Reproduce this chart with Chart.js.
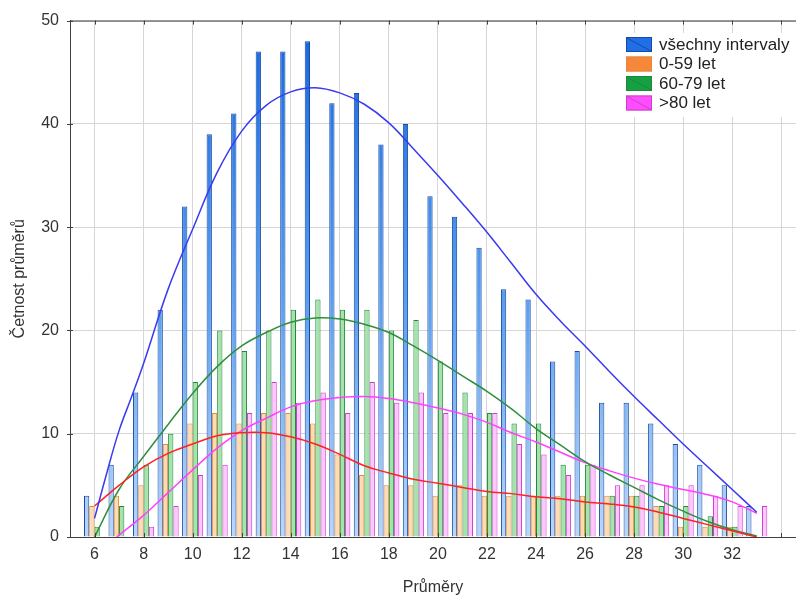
<!DOCTYPE html>
<html>
<head>
<meta charset="utf-8">
<script src="https://cdn.jsdelivr.net/npm/chart.js@4.4.1/dist/chart.umd.min.js"></script>
<style>
    html, body { margin: 0; padding: 0; background: #fff; }
    #wrap { width: 796px; height: 599px; }
</style>
</head>
<body>
<div id="wrap"><canvas id="prumery-chart" width="796" height="599"></canvas></div>
<script>
// průměry (kategorie na ose x)
const prumery = [6, 7, 8, 9, 10, 11, 12, 13, 14, 15, 16, 17, 18, 19, 20, 21, 22, 23, 24, 25, 26, 27, 28, 29, 30, 31, 32, 33];
const tickLabels = [6, 8, 10, 12, 14, 16, 18, 20, 22, 24, 26, 28, 30, 32];

// četnosti
const vsechny = [4, 7, 14, 22, 32, 39, 41, 47, 47, 48, 42, 43, 38, 40, 33, 31, 28, 24, 23, 17, 18, 13, 13, 11, 9, 7, 5, 3];
const do59 = [3, 4, 5, 9, 11, 12, 11, 12, 12, 11, 8, 6, 5, 5, 4, 5, 4, 4, 4, 4, 4, 4, 4, 3, 1, 1, 1, 0];
const od60do79 = [1, 3, 7, 10, 15, 20, 18, 20, 22, 23, 22, 22, 20, 21, 17, 14, 12, 11, 11, 7, 7, 4, 4, 3, 3, 2, 1, 0];
const nad80 = [0, 0, 1, 3, 6, 7, 12, 15, 13, 14, 12, 15, 13, 14, 12, 12, 12, 9, 8, 6, 7, 5, 5, 5, 5, 4, 3, 3];

// proložené křivky
const vsechnyKrivkaX = [6, 6.5, 7, 7.5, 8, 9, 10, 11, 12, 13, 14, 15, 16, 17, 18, 19, 20, 21, 22, 23, 24, 25, 26, 27, 28, 29, 30, 31, 32, 33];
const vsechnyKrivka = [1.8, 6.2, 10.3, 13.5, 16.8, 24.0, 29.8, 35.3, 39.3, 41.8, 43.1, 43.5, 43.0, 41.9, 40.1, 37.6, 35.0, 32.3, 29.5, 26.5, 23.5, 20.9, 18.5, 16.0, 13.6, 11.3, 9.0, 6.8, 4.6, 2.4];
const krivkaX = [6, 7, 8, 9, 10, 11, 12, 13, 14, 15, 16, 17, 18, 19, 20, 21, 22, 23, 24, 25, 26, 27, 28, 29, 30, 31, 32, 33];
const do59Krivka = [3.0, 5.0, 6.8, 8.1, 9.0, 9.8, 10.1, 10.1, 9.7, 9.0, 8.0, 6.9, 6.2, 5.6, 5.2, 4.8, 4.4, 4.2, 3.9, 3.7, 3.4, 3.2, 2.9, 2.4, 1.8, 1.2, 0.6, 0.0];
const od60do79Krivka = [0, 4.6, 7.8, 10.9, 13.9, 16.5, 18.5, 19.8, 20.8, 21.2, 21.1, 20.6, 19.8, 18.5, 17.1, 15.6, 14.1, 12.4, 10.5, 8.9, 7.3, 6.0, 4.8, 3.6, 2.5, 1.5, 0.7, 0.1];
const nad80KrivkaX = [6.9, 8, 9, 10, 11, 12, 13, 14, 15, 16, 17, 18, 19, 20, 21, 22, 23, 24, 25, 26, 27, 28, 29, 30, 31, 32, 33];
const nad80Krivka = [0, 2.1, 4.3, 6.5, 8.6, 10.3, 11.5, 12.6, 13.2, 13.5, 13.6, 13.4, 13.0, 12.5, 11.9, 11.1, 10.1, 9.2, 8.2, 7.2, 6.4, 5.7, 5.1, 4.6, 4.1, 3.4, 2.3];

Chart.defaults.font.family = "'Liberation Sans', Arial, sans-serif";
Chart.defaults.font.size = 16;
Chart.defaults.color = '#333333';

function points(xs, ys) {
    return xs.map((x, i) => ({ x, y: ys[i] }));
}

function blueGradient(context) {
    const { chart } = context;
    const area = chart.chartArea;
    if (!area) {
        return '#5a9ef0';
    }
    const g = chart.ctx.createLinearGradient(0, area.top, 0, area.bottom);
    g.addColorStop(0, '#1466e0');
    g.addColorStop(0.55, '#5a9ff0');
    g.addColorStop(1, '#b8d7fa');
    return g;
}

function barSet(label, data, fill, stroke, legendFill) {
    return {
        label,
        data,
        backgroundColor: fill,
        borderColor: stroke,
        borderWidth: 1,
        order: 1,
        legendFill,
        legendStroke: stroke,
    };
}

function curveSet(label, xs, ys, color) {
    return {
        type: 'line',
        label,
        data: points(xs, ys),
        borderColor: color,
        borderWidth: 1.5,
        pointRadius: 0,
        fill: false,
        tension: 0.4,
        order: 0,
    };
}

const frame = {
    id: 'frame',
    afterDraw(chart) {
        const { ctx, chartArea: a, scales: { x, y } } = chart;
        ctx.save();
        ctx.strokeStyle = '#404040';
        ctx.lineWidth = 1;
        ctx.beginPath();
        ctx.moveTo(a.left, a.top + 0.5);
        ctx.lineTo(a.right, a.top + 0.5);
        x.ticks.forEach((t) => {
            const px = Math.round(x.getPixelForValue(t.value)) + 0.5;
            ctx.moveTo(px, a.top);
            ctx.lineTo(px, a.top + 4);
            ctx.moveTo(px, a.bottom);
            ctx.lineTo(px, a.bottom - 4);
        });
        y.ticks.forEach((t) => {
            const py = Math.round(y.getPixelForValue(t.value)) + 0.5;
            ctx.moveTo(a.left - 3, py);
            ctx.lineTo(a.left + 3, py);
        });
        ctx.stroke();

        // legenda
        const bars = chart.data.datasets.filter((d) => d.legendFill);
        const lx = 626;
        const ly = 37;
        const row = 19.5;
        ctx.fillStyle = '#ffffff';
        ctx.fillRect(lx - 6, ly - 4, 172, bars.length * row + 6);
        ctx.font = "17px 'Liberation Sans', Arial, sans-serif";
        ctx.textBaseline = 'middle';
        bars.forEach((d, i) => {
            const top = ly + i * row;
            ctx.fillStyle = d.legendFill;
            ctx.fillRect(lx, top, 26, 15);
            ctx.strokeStyle = d.legendStroke;
            ctx.lineWidth = 1;
            ctx.strokeRect(lx + 0.5, top + 0.5, 25, 14);
            ctx.beginPath();
            ctx.moveTo(lx + 1, top + 1);
            ctx.lineTo(lx + 25, top + 14);
            ctx.stroke();
            ctx.fillStyle = '#222222';
            ctx.fillText(d.label, lx + 33, top + 8);
        });
        ctx.restore();
    },
};

new Chart(document.getElementById('prumery-chart'), {
    type: 'bar',
    data: {
        labels: prumery,
        datasets: [
            barSet('všechny intervaly', vsechny, blueGradient, '#1a4aa0', '#1f6fe8'),
            barSet('0-59 let', do59, '#fcdcb4', '#e8883c', '#f7883a'),
            barSet('60-79 let', od60do79, '#a6e2ae', '#1e8a34', '#16a044'),
            barSet('>80 let', nad80, '#ffc6ff', '#c840c8', '#ff4cff'),
            curveSet('křivka všechny', vsechnyKrivkaX, vsechnyKrivka, '#3a3af0'),
            curveSet('křivka 0-59', krivkaX, do59Krivka, '#ff2222'),
            curveSet('křivka 60-79', krivkaX, od60do79Krivka, '#2f8f3c'),
            curveSet('křivka >80', nad80KrivkaX, nad80Krivka, '#ff40ff'),
        ],
    },
    options: {
        responsive: false,
        animation: false,
        layout: { padding: { top: 19, right: 0, bottom: 0, left: 0 } },
        datasets: {
            bar: { categoryPercentage: 0.86, barPercentage: 1.0 },
        },
        plugins: {
            legend: { display: false },
            tooltip: { enabled: false },
        },
        scales: {
            x: {
                type: 'linear',
                min: 5,
                max: 34.6,
                offset: false,
                grid: { color: '#d6d6d6', offset: false, drawTicks: false },
                border: { color: '#404040' },
                ticks: {
                    stepSize: 2,
                    includeBounds: false,
                    autoSkip: false,
                    maxRotation: 0,
                    padding: 8,
                    callback: (value) => (tickLabels.includes(value) ? String(value) : ''),
                },
                title: { display: true, text: 'Průměry', padding: { top: 0, bottom: 2 } },
                afterFit: (scale) => { scale.height = 62; },
            },
            y: {
                min: 0,
                max: 50,
                grid: { color: '#d6d6d6', drawTicks: false },
                border: { color: '#404040' },
                ticks: { stepSize: 10, padding: 11 },
                title: { display: true, text: 'Četnost průměrů', padding: { top: 10, bottom: 0 } },
                afterFit: (scale) => { scale.width = 70; },
            },
        },
    },
    plugins: [frame],
});
</script>
</body>
</html>
